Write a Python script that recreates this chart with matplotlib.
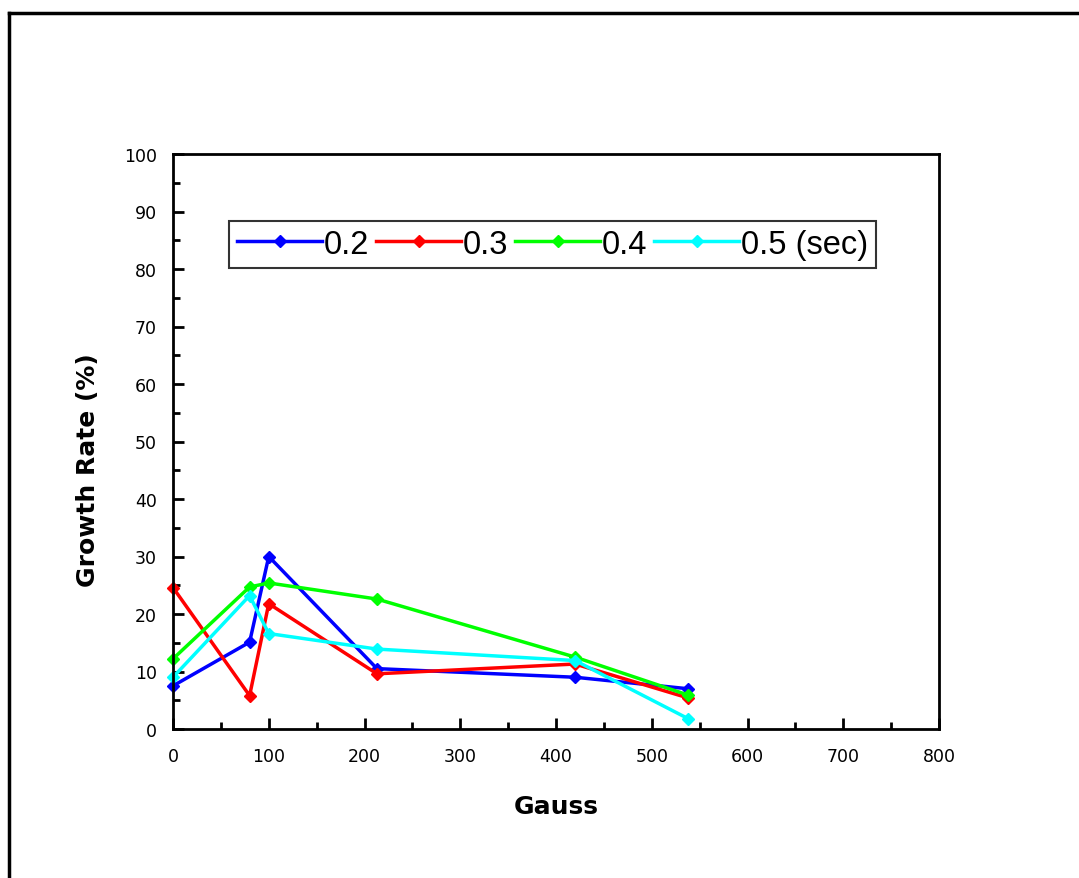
import numpy as np
import matplotlib.pyplot as plt
from matplotlib.lines import Line2D
from matplotlib.ticker import MultipleLocator

# Magnetic field (Gauss) and growth rate (%) for each exposure time
gauss = [0, 80, 100, 213, 420, 538]
rate_02 = [7.5, 15.1, 30.0, 10.5, 9.0, 7.0]
rate_03 = [24.6, 5.8, 21.8, 9.6, 11.3, 5.4]
rate_04 = [12.2, 24.7, 25.4, 22.6, 12.5, 5.9]
rate_05 = [9.0, 23.2, 16.6, 13.9, 11.9, 1.8]
labels = ['0.2', '0.3', '0.4', '0.5 (sec)']
colors = ['#0000ff', '#ff0000', '#00ff00', '#00ffff']

plt.rcParams['font.family'] = ['DejaVu Sans']

fig = plt.figure(figsize=(10.79, 8.79), dpi=100)
ax = fig.add_axes([173/1079, 1-730/879, (939-173)/1079, (730-155)/879])

for ys, c, lab in zip([rate_02, rate_03, rate_04, rate_05], colors, labels):
    ax.plot(gauss, ys, color=c, lw=2.5, marker='D', ms=6, label=lab, clip_on=False)

ax.set_xlim(0, 800)
ax.set_ylim(0, 100)
ax.xaxis.set_major_locator(MultipleLocator(100))
ax.xaxis.set_minor_locator(MultipleLocator(50))
ax.yaxis.set_major_locator(MultipleLocator(10))
ax.yaxis.set_minor_locator(MultipleLocator(5))
ax.tick_params(which='both', direction='in', width=2, labelsize=12.5, colors='black')
ax.tick_params(axis='y', pad=11.5)
ax.tick_params(axis='x', pad=13)
ax.tick_params(which='major', length=8)
ax.tick_params(which='minor', length=5)
for s in ax.spines.values():
    s.set_linewidth(2)

ax.set_xlabel('Gauss', fontsize=18, fontweight='bold', labelpad=21)
ax.set_ylabel('Growth Rate (%)', fontsize=18, fontweight='bold')
ax.yaxis.set_label_coords(-0.095, 0.452)

leg = ax.legend(loc='upper left', bbox_to_anchor=(0.073, 0.884), ncol=4,
                prop={'family': 'Liberation Sans', 'size': 23.5},
                frameon=True, fancybox=False, edgecolor='black',
                handlelength=2.6, handletextpad=0.05, columnspacing=0.22,
                borderpad=0.25, borderaxespad=0)
leg.get_frame().set_linewidth(1.5)
for h in leg.legend_handles:
    h.set_markersize(6)

# outer frame of the picture
fig.add_artist(Line2D([9/1079, 9/1079], [0, 1-14/879], color='black', lw=2.5))
fig.add_artist(Line2D([9/1079, 1], [1-14/879, 1-14/879], color='black', lw=2.5))

fig.savefig('out.png', dpi=100)
